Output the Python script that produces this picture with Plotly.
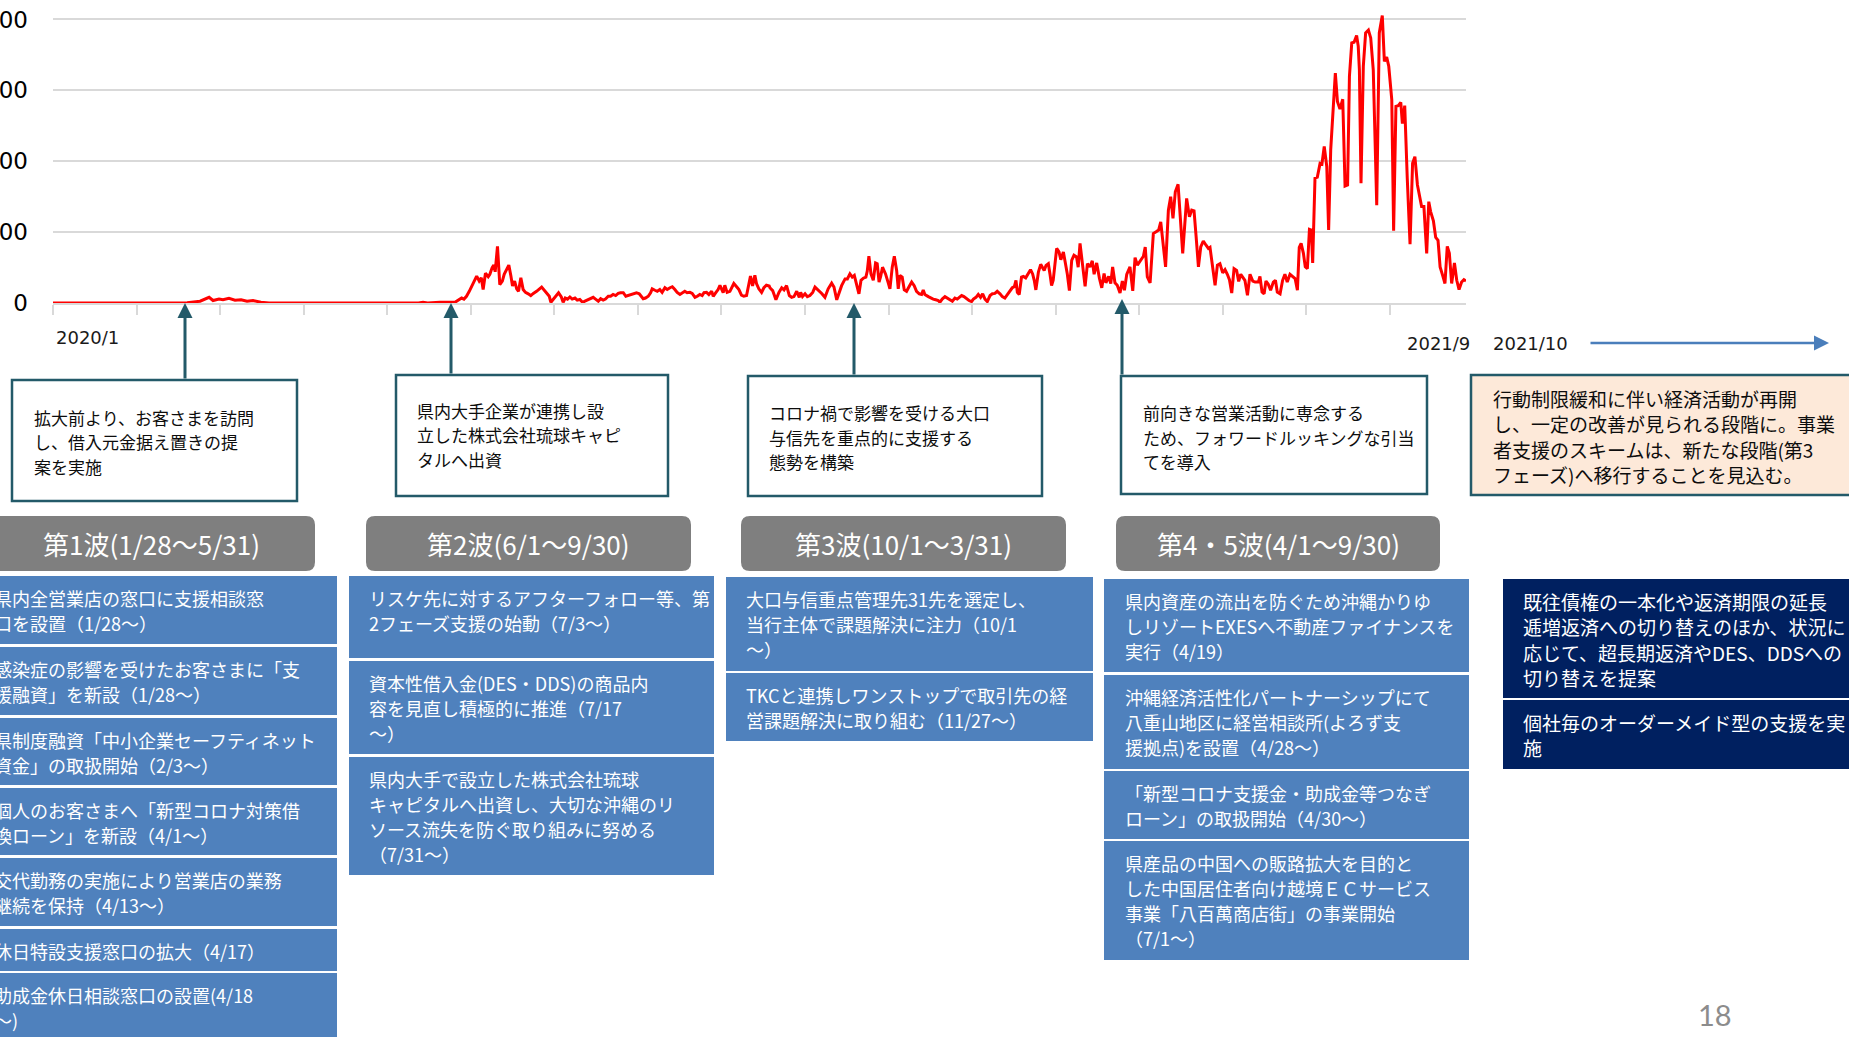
import pandas as pd
import plotly.graph_objects as go

# ── Canvas / palette ──────────────────────────────────────────────────────────
W, H = 1849, 1037
RED        = "#FF0000"
GRID       = "#D9D9D9"
TEAL       = "#235A69"
BLUE       = "#4F81BD"
NAVY       = "#002060"
HDR_GRAY   = "#7F7F7F"
PEACH      = "#FDE9D9"
ARROW_BLUE = "#4A7EBB"
JP         = "Noto Sans CJK JP"

# ── Data: daily new cases (days counted from START) ─────────────────────────
START = "2020-01-28"
END   = "2021-09-30"

DAYS = [
    0.0, 14.0, 15.0, 17.0, 57.0, 58.0, 63.6, 65.3, 67.5, 69.2, 71.8, 73.5, 76.1, 78.7,
    81.3, 83.9, 86.5, 89.9, 93.4, 158.0, 160.0, 162.0, 165.0,
    167.3, 173.8, 175.2, 176.7, 177.7, 178.8, 180.0, 181.0, 182.0, 183.2, 184.3, 185.2,
    186.0, 187.0, 188.2, 188.9, 189.9, 190.6, 191.2, 192.2, 193.2, 194.3, 195.1, 196.1,
    197.1, 198.0, 198.7, 199.6, 200.5, 201.3, 202.3, 203.3, 204.3, 205.5, 206.6, 207.7,
    209.1, 211.3, 212.3, 213.4, 214.6, 215.3, 216.3, 217.5, 218.6, 219.8, 220.6, 221.5,
    222.5, 223.5, 224.5, 225.7, 226.7, 227.8, 229.0, 230.0, 231.1, 232.2, 233.6, 234.6,
    235.8, 236.8, 237.9, 238.9, 240.1, 241.1, 242.2, 243.3, 244.4, 245.4, 246.6, 247.7,
    248.7, 249.9, 250.9, 252.3, 253.5, 254.4, 255.2, 256.2, 257.4, 258.4, 259.1, 260.3,
    261.3, 262.4, 263.4, 264.6, 265.6, 266.8, 267.8, 268.9, 269.9, 271.1, 272.1, 273.2,
    274.2, 275.4, 276.4, 277.6, 278.6, 279.7, 280.7, 281.5, 282.6, 283.6, 284.8, 285.5,
    286.6, 287.6, 288.4, 289.1, 289.8, 290.5, 291.5, 292.7, 293.7, 294.4, 295.6, 296.6,
    297.7, 298.7, 299.9, 300.9, 301.6, 302.5, 303.5, 304.2, 305.2, 306.4, 307.4, 308.5,
    309.7, 310.0, 311.2, 312.6, 313.9, 315.1, 316.1, 317.2, 318.4, 319.4, 320.4, 321.6,
    322.7, 323.3, 324.1, 325.2, 326.2, 327.3, 328.5, 329.5, 330.9, 332.4, 333.8, 335.2,
    336.7, 337.7, 338.9, 340.0, 341.0, 342.5, 343.5, 344.6, 345.6, 346.5, 347.5, 348.5,
    349.4, 350.4, 351.5, 352.1, 352.8, 353.7, 354.7, 355.7, 356.4, 357.2, 357.9, 358.7,
    359.3, 360.0, 361.2, 361.9, 362.9, 363.8, 364.8, 365.5, 366.2, 367.2, 368.1, 369.1,
    370.1, 371.3, 372.4, 373.4, 374.6, 375.6, 376.3, 377.0, 378.5, 379.5, 380.6, 381.7,
    382.8, 383.5, 384.5, 385.7, 386.8, 387.9, 388.9, 390.0, 391.0, 391.9, 392.9, 393.9,
    395.1, 396.1, 397.2, 398.0, 399.1, 400.1, 401.1, 402.0, 403.0, 404.0, 405.2, 406.2,
    407.3, 408.3, 409.5, 410.5, 411.6, 412.6, 413.8, 414.8, 415.7, 416.4, 417.0, 417.8,
    418.8, 419.6, 420.6, 421.7, 422.7, 423.6, 424.3, 425.0, 426.1, 427.1, 427.9, 428.6,
    429.4, 430.4, 431.1, 431.8, 432.5, 433.3, 434.0, 435.0, 435.8, 436.9, 437.6, 438.6,
    439.5, 440.5, 441.5, 442.6, 443.3,
    444.1, 446.3, 447.3, 448.4, 449.4, 450.2, 451.3, 452.5, 453.5, 454.5, 455.3, 456.5,
    457.4, 458.2, 459.2, 460.2, 461.4, 462.4, 463.3, 464.3, 465.7, 466.9, 467.9, 468.9,
    470.0, 471.5, 472.3, 473.2, 474.4, 475.8, 477.0, 478.1, 479.0, 480.1, 481.1, 482.3,
    483.3, 484.3, 485.3, 486.5, 487.3, 488.5, 490.2, 491.4, 492.4, 493.4, 494.3, 495.3,
    496.3, 497.4, 498.6, 499.6, 500.3, 501.5, 502.5, 503.5, 504.6, 505.8, 506.8, 507.8,
    508.7, 509.7, 510.7, 511.8, 512.7, 513.6, 514.4, 515.4, 516.5, 517.6, 518.8, 519.8,
    521.2, 521.9, 522.8, 523.7, 524.5, 525.5, 526.5, 527.7, 528.6, 529.4, 530.6, 531.7,
    532.7, 533.7, 534.9, 535.9, 537.1, 538.1, 538.9, 539.7, 540.7, 541.5, 542.4, 543.3,
    544.1, 544.7, 545.7, 546.7, 547.9, 548.7, 549.7, 550.8, 551.6, 552.5, 553.4, 554.5,
    555.4, 556.5, 557.7, 558.7, 559.8, 560.6, 561.6, 562.6, 563.7, 564.4, 564.9, 565.6,
    566.6, 567.6, 568.8, 569.8, 570.9, 572.4, 573.5, 574.8, 575.7, 576.7, 577.6, 578.4,
    578.9, 579.7, 580.7, 581.7, 582.8, 583.5, 584.5, 585.6, 586.8, 587.9, 588.9, 590.0,
    591.1, 591.8, 592.8, 594.0, 594.9, 595.7, 596.9, 597.9, 598.9, 599.8, 600.9, 601.9,
    602.9, 603.8, 604.8, 606.0, 607.0, 608.0, 609.1, 610.1, 611.0,
]
CASES = [
    0, 0, 2, 0, 0, 1, 5, 9, 16, 7, 11, 9, 13, 8,
    9, 5, 7, 2, 0, 0, 2, 0, 1,
    2, 2, 8, 14, 11, 19, 33, 48, 59, 76, 62, 71,
    38, 84, 74, 81, 100, 107, 88, 160, 52, 62, 81, 95,
    107, 76, 48, 62, 40, 33, 71, 38, 30, 26, 21, 27,
    33, 45, 36, 29, 19, 2, 11, 21, 29, 17, 2, 14,
    11, 17, 11, 14, 8, 10, 2, 5, 8, 10, 16, 11,
    5, 12, 8, 11, 19, 19, 24, 21, 27, 29, 29, 19,
    21, 23, 27, 29, 26, 19, 12, 14, 19, 29, 40, 36,
    33, 38, 30, 43, 38, 43, 46, 38, 30, 24, 29, 33,
    29, 30, 27, 16, 19, 24, 21, 29, 30, 24, 33, 19,
    29, 38, 50, 40, 29, 50, 30, 33, 46, 55, 46, 38,
    22, 19, 21, 52, 76, 48, 78, 55, 40, 30, 43, 50,
    48, 43, 35, 9, 30, 43, 37, 49, 21, 16, 18, 33,
    16, 30, 18, 26, 18, 21, 30, 45, 37, 27, 16, 40,
    56, 45, 9, 30, 49, 68, 68, 82, 73, 78, 49, 26,
    64, 70, 73, 90, 132, 82, 64, 113, 111, 59, 75, 101,
    92, 82, 56, 40, 101, 132, 92, 40, 78, 73, 37, 33,
    45, 59, 49, 33, 26, 24, 37, 24, 18, 14, 11, 9,
    7, 2, 11, 18, 14, 11, 5, 14, 11, 16, 21, 18,
    11, 7, 4, 11, 16, 24, 16, 26, 11, 4, 21, 26,
    27, 33, 26, 18, 14, 24, 35, 43, 46, 64, 30, 24,
    73, 75, 71, 84, 94, 82, 64, 37, 87, 109, 101, 92,
    106, 111, 82, 49, 64, 122, 154, 144, 122, 144, 120, 82,
    35, 120, 135, 130, 101,
    168, 47, 111, 102, 119, 81, 113, 69, 43, 83, 57, 75,
    55, 102, 57, 50, 28, 62, 36, 81, 102, 34, 128, 107,
    119, 132, 158, 74, 57, 196, 201, 206, 229, 168, 102, 262,
    300, 239, 314, 335, 253, 140, 295, 243, 262, 260, 187, 102,
    158, 175, 163, 154, 157, 102, 50, 107, 111, 85, 94, 81,
    66, 28, 97, 92, 61, 81, 72, 64, 22, 81, 62, 59,
    59, 75, 31, 26, 62, 53, 36, 59, 64, 31, 26, 64,
    81, 59, 81, 75, 69, 36, 157, 168, 140, 102, 97, 208,
    206, 113, 352, 355, 394, 392, 442, 385, 206, 432, 545, 649,
    569, 547, 575, 330, 333, 640, 734, 736, 755, 725, 658, 338,
    668, 762, 770, 748, 658, 276, 762, 811, 682, 694, 668, 611,
    574, 204, 555, 557, 566, 506, 557, 352, 166, 394, 413, 333,
    300, 272, 272, 140, 286, 258, 232, 185, 177, 102, 78, 55,
    160, 140, 55, 113, 64, 38, 59, 66, 62,
]
Y_TICKS = [0, 200, 400, 600, 800]
X_LABELS = ["2020/1", "2021/9", "2021/10"]

# ── Texts ─────────────────────────────────────────────────────────────────────
CALLOUTS = [
    "拡大前より、お客さまを訪問\nし、借入元金据え置きの提\n案を実施",
    "県内大手企業が連携し設\n立した株式会社琉球キャピ\nタルへ出資",
    "コロナ禍で影響を受ける大口\n与信先を重点的に支援する\n態勢を構築",
    "前向きな営業活動に専念する\nため、フォワードルッキングな引当\nてを導入",
]
OUTLOOK = ("行動制限緩和に伴い経済活動が再開\nし、一定の改善が見られる段階に。事業\n"
           "者支援のスキームは、新たな段階(第3\nフェーズ)へ移行することを見込む。")
WAVES = ["第1波(1/28～5/31)", "第2波(6/1～9/30)", "第3波(10/1～3/31)", "第4・5波(4/1～9/30)"]
MEASURES = [
    ["県内全営業店の窓口に支援相談窓\n口を設置（1/28～）",
     "感染症の影響を受けたお客さまに「支\n援融資」を新設（1/28～）",
     "県制度融資「中小企業セーフティネット\n資金」の取扱開始（2/3～）",
     "個人のお客さまへ「新型コロナ対策借\n換ローン」を新設（4/1～）",
     "交代勤務の実施により営業店の業務\n継続を保持（4/13～）",
     "休日特設支援窓口の拡大（4/17）",
     "助成金休日相談窓口の設置(4/18\n～)"],
    ["リスケ先に対するアフターフォロー等、第\n2フェーズ支援の始動（7/3～）",
     "資本性借入金(DES・DDS)の商品内\n容を見直し積極的に推進（7/17\n～）",
     "県内大手で設立した株式会社琉球\nキャピタルへ出資し、大切な沖縄のリ\nソース流失を防ぐ取り組みに努める\n（7/31～）"],
    ["大口与信重点管理先31先を選定し、\n当行主体で課題解決に注力（10/1\n～）",
     "TKCと連携しワンストップで取引先の経\n営課題解決に取り組む（11/27～）"],
    ["県内資産の流出を防ぐため沖縄かりゆ\nしリゾートEXESへ不動産ファイナンスを\n実行（4/19）",
     "沖縄経済活性化パートナーシップにて\n八重山地区に経営相談所(よろず支\n援拠点)を設置（4/28～）",
     "「新型コロナ支援金・助成金等つなぎ\nローン」の取扱開始（4/30～）",
     "県産品の中国への販路拡大を目的と\nした中国居住者向け越境ＥＣサービス\n事業「八百萬商店街」の事業開始\n（7/1～）"],
    ["既往債権の一本化や返済期限の延長\n逓増返済への切り替えのほか、状況に\n応じて、超長期返済やDES、DDSへの\n切り替えを提案",
     "個社毎のオーダーメイド型の支援を実\n施"],
]
PAGE_NO = "18"

# ── Layout geometry (pixels) ──────────────────────────────────────────────────
PLOT_L, PLOT_R, PLOT_B = 53, 1466, 303
CALLOUT_BOX = [(12, 380, 297, 501), (396, 375, 668, 496), (748, 376, 1042, 496), (1121, 376, 1427, 494)]
CALLOUT_TXT = [(32, 417), (415, 410), (767, 413), (1141, 413)]
ARROW_X = [185, 451, 854, 1122]
ARROW_TIP = [303, 303, 303, 299]
HDR_X = [(-13, 315), (366, 691), (741, 1066), (1116, 1440)]
HDR_Y = (516, 571)
COL_X = [(-5, 337), (349, 714), (726, 1093), (1104, 1469), (1503, 1860)]
COL_TXT_X = [-8, 367, 744, 1123, 1521]
COL_ROWS = [
    [(576, 644), (647, 715), (718, 785), (788, 855), (858, 926), (929, 971), (973, 1045)],
    [(576, 658), (661, 754), (757, 875)],
    [(577, 671), (673, 741)],
    [(579, 672), (675, 769), (771, 839), (841, 960)],
    [(579, 698), (700, 769)],
]
COL_FILL = [BLUE, BLUE, BLUE, BLUE, NAVY]


def px(x):
    return x / W


def py(y):
    return 1 - y / H


def text_block(fig, x, y0, text, size, color, pitch=25, family=JP):
    """Place each line separately so line pitch matches the slide."""
    for i, line in enumerate(text.split("\n")):
        fig.add_annotation(x=px(x), y=py(y0 + i * pitch), xref="paper", yref="paper",
                           text=line, showarrow=False, xanchor="left", yanchor="middle",
                           font=dict(family=family, size=size, color=color))


def rect(fig, l, t, r, b, fill, line_color=None, line_width=0):
    fig.add_shape(type="rect", xref="paper", yref="paper",
                  x0=px(l), x1=px(r), y0=py(b), y1=py(t), fillcolor=fill,
                  line=dict(color=line_color or fill, width=line_width), layer="below")


def rounded(fig, l, t, r, b, rad, fill):
    rx, ry = rad / W, rad / H
    L, R, T, B = px(l), px(r), py(t), py(b)
    path = (f"M{L+rx},{T} L{R-rx},{T} Q{R},{T} {R},{T-ry} L{R},{B+ry} Q{R},{B} {R-rx},{B} "
            f"L{L+rx},{B} Q{L},{B} {L},{B+ry} L{L},{T-ry} Q{L},{T} {L+rx},{T} Z")
    fig.add_shape(type="path", xref="paper", yref="paper", path=path,
                  fillcolor=fill, line=dict(width=0), layer="below")


dates = pd.Timestamp(START) + pd.to_timedelta(DAYS, unit="D")

fig = go.Figure()
fig.add_trace(go.Scatter(x=dates, y=CASES, mode="lines",
                         line=dict(color=RED, width=3), hoverinfo="skip", showlegend=False))

fig.update_layout(
    template="none",
    width=W, height=H,
    margin=dict(l=0, r=0, t=0, b=0),
    paper_bgcolor="white", plot_bgcolor="white",
    showlegend=False,
    xaxis=dict(
        domain=[px(PLOT_L), px(PLOT_R)], type="date", range=[START, END],
        tick0=START, dtick=36.13 * 86400000,
        ticks="outside", ticklen=10, tickwidth=1.5, tickcolor=GRID,
        showticklabels=False, showgrid=False, zeroline=False,
        showline=True, linecolor=GRID, linewidth=1.5, automargin=False, fixedrange=True,
    ),
    yaxis=dict(
        domain=[py(PLOT_B), 1], range=[0, 855], tickvals=Y_TICKS,
        ticks="", showline=False, showgrid=True, gridcolor=GRID, gridwidth=1.5,
        zeroline=False, ticklabelstandoff=24, automargin=False, fixedrange=True,
        tickfont=dict(family="DejaVu Sans", size=23, color="#000000"),
    ),
)

# x-axis end labels and the "continues" arrow
text_block(fig, 54, 337, X_LABELS[0], 18, "#1A1A1A", family="DejaVu Sans")
text_block(fig, 1405, 343, X_LABELS[1], 18, "#1A1A1A", family="DejaVu Sans")
text_block(fig, 1491, 343, X_LABELS[2], 18, "#1A1A1A", family="DejaVu Sans")
fig.add_annotation(x=px(1829), y=py(343), xref="paper", yref="paper", text="",
                   showarrow=True, ax=-240, ay=0, arrowhead=2, arrowsize=1.2,
                   arrowwidth=2.5, arrowcolor=ARROW_BLUE)

# callout boxes with arrows to the timeline
for i, txt in enumerate(CALLOUTS):
    l, t, r, b = CALLOUT_BOX[i]
    rect(fig, l, t, r, b, "white", TEAL, 2.5)
    text_block(fig, CALLOUT_TXT[i][0], CALLOUT_TXT[i][1], txt, 17, "#0D0D0D", pitch=24.5)
    fig.add_annotation(x=px(ARROW_X[i]), y=py(ARROW_TIP[i]), xref="paper", yref="paper",
                       text="", showarrow=True, ax=0, ay=t - ARROW_TIP[i],
                       arrowhead=2, arrowsize=1, arrowwidth=3, arrowcolor=TEAL)

rect(fig, 1471, 375, 1860, 495, PEACH, TEAL, 2.5)
text_block(fig, 1491, 398, OUTLOOK, 19, "#0D0D0D", pitch=25.5)

# wave headers
for i, wave in enumerate(WAVES):
    l, r = HDR_X[i]
    rounded(fig, l, HDR_Y[0], r, HDR_Y[1], 9, HDR_GRAY)
    fig.add_annotation(x=px((l + r) / 2), y=py(sum(HDR_Y) / 2), xref="paper", yref="paper",
                       text=wave, showarrow=False, xanchor="center", yanchor="middle",
                       font=dict(family=JP, size=26, color="white"))

# measures by wave
for c, items in enumerate(MEASURES):
    l, r = COL_X[c]
    size, pitch = (19, 25.5) if c == 4 else (18, 25)
    for (t, b), txt in zip(COL_ROWS[c], items):
        rect(fig, l, t, r, b, COL_FILL[c])
        text_block(fig, COL_TXT_X[c], t + 22, txt, size, "white", pitch=pitch)

fig.add_annotation(x=px(1715), y=py(1014), xref="paper", yref="paper", text=PAGE_NO,
                   showarrow=False, xanchor="center", yanchor="middle",
                   font=dict(family="Lato", size=29, color="#8C8C8C"))

fig.write_html("out.html", config={"displayModeBar": False},
               post_script="document.body.style.margin='0';")
